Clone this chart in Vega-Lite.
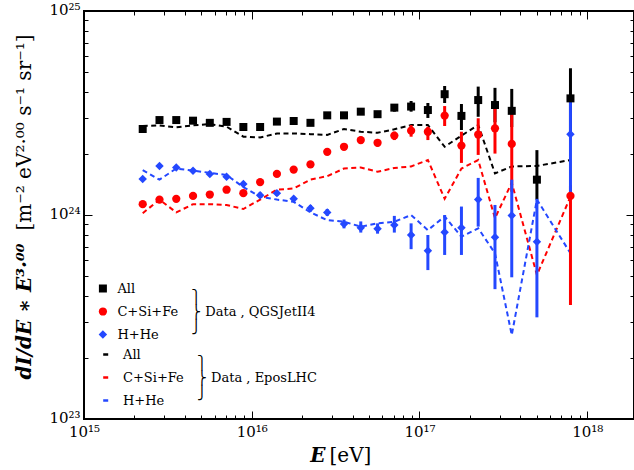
{
"$schema": "https://vega.github.io/schema/vega-lite/v6.json",
"width": 550, "height": 408,
"autosize": {"type": "none"},
"padding": {"left": 84, "top": 11, "right": 0, "bottom": 51},
"background": "white",
"config": {
  "view": {"stroke": "black", "strokeWidth": 2},
  "font": "DejaVu Serif",
  "axis": {"labelFont": "DejaVu Serif", "titleFont": "DejaVu Serif", "labelColor": "black", "titleColor": "black", "tickColor": "black", "grid": false, "domain": false, "labelFlush": false, "labelOverlap": false},
  "legend": {"labelFont": "DejaVu Serif", "titleFont": "DejaVu Serif", "labelColor": "black", "titleColor": "black", "labelFontSize": 13, "titleFontSize": 13, "titleFontWeight": "normal", "titleLineHeight": 15, "padding": 0}
},
"datasets": {
  "qgs": [
    {"E": 2.2387e15, "v": 2.64e24, "lo": 2.58e24, "hi": 2.70e24, "c": "All"},
    {"E": 2.8184e15, "v": 2.92e24, "lo": 2.86e24, "hi": 2.98e24, "c": "All"},
    {"E": 3.5481e15, "v": 2.92e24, "lo": 2.86e24, "hi": 2.98e24, "c": "All"},
    {"E": 4.4668e15, "v": 2.90e24, "lo": 2.84e24, "hi": 2.96e24, "c": "All"},
    {"E": 5.6234e15, "v": 2.83e24, "lo": 2.77e24, "hi": 2.89e24, "c": "All"},
    {"E": 7.0795e15, "v": 2.86e24, "lo": 2.80e24, "hi": 2.92e24, "c": "All"},
    {"E": 8.9125e15, "v": 2.70e24, "lo": 2.64e24, "hi": 2.76e24, "c": "All"},
    {"E": 1.1220e16, "v": 2.70e24, "lo": 2.63e24, "hi": 2.77e24, "c": "All"},
    {"E": 1.4125e16, "v": 2.87e24, "lo": 2.80e24, "hi": 2.94e24, "c": "All"},
    {"E": 1.7783e16, "v": 2.89e24, "lo": 2.82e24, "hi": 2.96e24, "c": "All"},
    {"E": 2.2387e16, "v": 2.83e24, "lo": 2.75e24, "hi": 2.91e24, "c": "All"},
    {"E": 2.8184e16, "v": 3.08e24, "lo": 3.00e24, "hi": 3.16e24, "c": "All"},
    {"E": 3.5481e16, "v": 3.08e24, "lo": 2.99e24, "hi": 3.17e24, "c": "All"},
    {"E": 4.4668e16, "v": 3.21e24, "lo": 3.11e24, "hi": 3.31e24, "c": "All"},
    {"E": 5.6234e16, "v": 3.12e24, "lo": 3.01e24, "hi": 3.23e24, "c": "All"},
    {"E": 7.0795e16, "v": 3.36e24, "lo": 3.21e24, "hi": 3.46e24, "c": "All"},
    {"E": 8.9125e16, "v": 3.40e24, "lo": 3.21e24, "hi": 3.62e24, "c": "All"},
    {"E": 1.1220e17, "v": 3.27e24, "lo": 2.99e24, "hi": 3.54e24, "c": "All"},
    {"E": 1.4125e17, "v": 3.91e24, "lo": 3.54e24, "hi": 4.29e24, "c": "All"},
    {"E": 1.7783e17, "v": 3.06e24, "lo": 2.61e24, "hi": 3.50e24, "c": "All"},
    {"E": 2.2387e17, "v": 3.66e24, "lo": 3.03e24, "hi": 4.26e24, "c": "All"},
    {"E": 2.8184e17, "v": 3.46e24, "lo": 2.85e24, "hi": 4.20e24, "c": "All"},
    {"E": 3.5481e17, "v": 3.24e24, "lo": 2.70e24, "hi": 4.15e24, "c": "All"},
    {"E": 5.0119e17, "v": 1.49e24, "lo": 1.19e24, "hi": 2.08e24, "c": "All"},
    {"E": 7.9433e17, "v": 3.73e24, "lo": 2.50e24, "hi": 5.24e24, "c": "All"},
    {"E": 2.2387e15, "v": 1.13e24, "lo": 1.10e24, "hi": 1.16e24, "c": "C+Si+Fe"},
    {"E": 2.8184e15, "v": 1.19e24, "lo": 1.16e24, "hi": 1.22e24, "c": "C+Si+Fe"},
    {"E": 3.5481e15, "v": 1.20e24, "lo": 1.17e24, "hi": 1.23e24, "c": "C+Si+Fe"},
    {"E": 4.4668e15, "v": 1.24e24, "lo": 1.21e24, "hi": 1.27e24, "c": "C+Si+Fe"},
    {"E": 5.6234e15, "v": 1.26e24, "lo": 1.23e24, "hi": 1.29e24, "c": "C+Si+Fe"},
    {"E": 7.0795e15, "v": 1.33e24, "lo": 1.30e24, "hi": 1.36e24, "c": "C+Si+Fe"},
    {"E": 8.9125e15, "v": 1.28e24, "lo": 1.25e24, "hi": 1.31e24, "c": "C+Si+Fe"},
    {"E": 1.1220e16, "v": 1.45e24, "lo": 1.41e24, "hi": 1.49e24, "c": "C+Si+Fe"},
    {"E": 1.4125e16, "v": 1.59e24, "lo": 1.55e24, "hi": 1.63e24, "c": "C+Si+Fe"},
    {"E": 1.7783e16, "v": 1.67e24, "lo": 1.62e24, "hi": 1.72e24, "c": "C+Si+Fe"},
    {"E": 2.2387e16, "v": 1.77e24, "lo": 1.72e24, "hi": 1.82e24, "c": "C+Si+Fe"},
    {"E": 2.8184e16, "v": 2.04e24, "lo": 1.98e24, "hi": 2.10e24, "c": "C+Si+Fe"},
    {"E": 3.5481e16, "v": 2.16e24, "lo": 2.09e24, "hi": 2.23e24, "c": "C+Si+Fe"},
    {"E": 4.4668e16, "v": 2.33e24, "lo": 2.24e24, "hi": 2.42e24, "c": "C+Si+Fe"},
    {"E": 5.6234e16, "v": 2.26e24, "lo": 2.17e24, "hi": 2.35e24, "c": "C+Si+Fe"},
    {"E": 7.0795e16, "v": 2.45e24, "lo": 2.33e24, "hi": 2.56e24, "c": "C+Si+Fe"},
    {"E": 8.9125e16, "v": 2.59e24, "lo": 2.42e24, "hi": 2.76e24, "c": "C+Si+Fe"},
    {"E": 1.1220e17, "v": 2.56e24, "lo": 2.33e24, "hi": 2.71e24, "c": "C+Si+Fe"},
    {"E": 1.4125e17, "v": 3.07e24, "lo": 2.73e24, "hi": 3.42e24, "c": "C+Si+Fe"},
    {"E": 1.7783e17, "v": 2.19e24, "lo": 1.80e24, "hi": 2.56e24, "c": "C+Si+Fe"},
    {"E": 2.2387e17, "v": 2.48e24, "lo": 1.97e24, "hi": 2.98e24, "c": "C+Si+Fe"},
    {"E": 2.8184e17, "v": 2.66e24, "lo": 2.00e24, "hi": 3.46e24, "c": "C+Si+Fe"},
    {"E": 3.5481e17, "v": 2.23e24, "lo": 1.30e24, "hi": 3.20e24, "c": "C+Si+Fe"},
    {"E": 7.9433e17, "v": 1.24e24, "lo": 0.362e24, "hi": 1.40e24, "c": "C+Si+Fe"},
    {"E": 2.2387e15, "v": 1.50e24, "lo": 1.47e24, "hi": 1.53e24, "c": "H+He"},
    {"E": 2.8184e15, "v": 1.74e24, "lo": 1.70e24, "hi": 1.78e24, "c": "H+He"},
    {"E": 3.5481e15, "v": 1.71e24, "lo": 1.67e24, "hi": 1.75e24, "c": "H+He"},
    {"E": 4.4668e15, "v": 1.65e24, "lo": 1.61e24, "hi": 1.69e24, "c": "H+He"},
    {"E": 5.6234e15, "v": 1.59e24, "lo": 1.55e24, "hi": 1.63e24, "c": "H+He"},
    {"E": 7.0795e15, "v": 1.54e24, "lo": 1.50e24, "hi": 1.58e24, "c": "H+He"},
    {"E": 8.9125e15, "v": 1.42e24, "lo": 1.38e24, "hi": 1.46e24, "c": "H+He"},
    {"E": 1.1220e16, "v": 1.25e24, "lo": 1.21e24, "hi": 1.29e24, "c": "H+He"},
    {"E": 1.4125e16, "v": 1.28e24, "lo": 1.24e24, "hi": 1.32e24, "c": "H+He"},
    {"E": 1.7783e16, "v": 1.20e24, "lo": 1.16e24, "hi": 1.24e24, "c": "H+He"},
    {"E": 2.2387e16, "v": 1.08e24, "lo": 1.04e24, "hi": 1.12e24, "c": "H+He"},
    {"E": 2.8184e16, "v": 1.03e24, "lo": 0.99e24, "hi": 1.07e24, "c": "H+He"},
    {"E": 3.5481e16, "v": 0.903e24, "lo": 0.86e24, "hi": 0.95e24, "c": "H+He"},
    {"E": 4.4668e16, "v": 0.867e24, "lo": 0.82e24, "hi": 0.93e24, "c": "H+He"},
    {"E": 5.6234e16, "v": 0.857e24, "lo": 0.81e24, "hi": 0.91e24, "c": "H+He"},
    {"E": 7.0795e16, "v": 0.894e24, "lo": 0.82e24, "hi": 0.99e24, "c": "H+He"},
    {"E": 8.9125e16, "v": 0.798e24, "lo": 0.68e24, "hi": 0.91e24, "c": "H+He"},
    {"E": 1.1220e17, "v": 0.668e24, "lo": 0.537e24, "hi": 0.798e24, "c": "H+He"},
    {"E": 1.4125e17, "v": 0.822e24, "lo": 0.637e24, "hi": 1.00e24, "c": "H+He"},
    {"E": 1.7783e17, "v": 0.867e24, "lo": 0.637e24, "hi": 1.10e24, "c": "H+He"},
    {"E": 2.2387e17, "v": 1.19e24, "lo": 0.877e24, "hi": 1.52e24, "c": "H+He"},
    {"E": 2.8184e17, "v": 0.778e24, "lo": 0.433e24, "hi": 1.12e24, "c": "H+He"},
    {"E": 3.5481e17, "v": 0.994e24, "lo": 0.495e24, "hi": 1.49e24, "c": "H+He"},
    {"E": 5.0119e17, "v": 0.74e24, "lo": 0.315e24, "hi": 1.20e24, "c": "H+He"},
    {"E": 7.9433e17, "v": 2.49e24, "lo": 1.20e24, "hi": 3.70e24, "c": "H+He"}
  ],
  "epos": [
    {"E": 2.2387e15, "v": 2.73e24, "c": "All"},
    {"E": 2.8184e15, "v": 2.75e24, "c": "All"},
    {"E": 3.5481e15, "v": 2.69e24, "c": "All"},
    {"E": 4.4668e15, "v": 2.75e24, "c": "All"},
    {"E": 5.6234e15, "v": 2.79e24, "c": "All"},
    {"E": 7.0795e15, "v": 2.71e24, "c": "All"},
    {"E": 8.9125e15, "v": 2.42e24, "c": "All"},
    {"E": 1.1220e16, "v": 2.40e24, "c": "All"},
    {"E": 1.4125e16, "v": 2.51e24, "c": "All"},
    {"E": 1.7783e16, "v": 2.51e24, "c": "All"},
    {"E": 2.2387e16, "v": 2.49e24, "c": "All"},
    {"E": 2.8184e16, "v": 2.47e24, "c": "All"},
    {"E": 3.5481e16, "v": 2.64e24, "c": "All"},
    {"E": 4.4668e16, "v": 2.56e24, "c": "All"},
    {"E": 5.6234e16, "v": 2.53e24, "c": "All"},
    {"E": 7.0795e16, "v": 2.63e24, "c": "All"},
    {"E": 8.9125e16, "v": 2.76e24, "c": "All"},
    {"E": 1.1220e17, "v": 2.76e24, "c": "All"},
    {"E": 1.4125e17, "v": 2.16e24, "c": "All"},
    {"E": 1.7783e17, "v": 2.45e24, "c": "All"},
    {"E": 2.2387e17, "v": 2.76e24, "c": "All"},
    {"E": 2.8184e17, "v": 1.60e24, "c": "All"},
    {"E": 3.5481e17, "v": 1.73e24, "c": "All"},
    {"E": 5.0119e17, "v": 1.74e24, "c": "All"},
    {"E": 7.9433e17, "v": 1.86e24, "c": "All"},
    {"E": 2.2387e15, "v": 1.02e24, "c": "C+Si+Fe"},
    {"E": 2.8184e15, "v": 1.19e24, "c": "C+Si+Fe"},
    {"E": 3.5481e15, "v": 1.03e24, "c": "C+Si+Fe"},
    {"E": 4.4668e15, "v": 1.13e24, "c": "C+Si+Fe"},
    {"E": 5.6234e15, "v": 1.13e24, "c": "C+Si+Fe"},
    {"E": 7.0795e15, "v": 1.12e24, "c": "C+Si+Fe"},
    {"E": 8.9125e15, "v": 1.07e24, "c": "C+Si+Fe"},
    {"E": 1.1220e16, "v": 1.19e24, "c": "C+Si+Fe"},
    {"E": 1.4125e16, "v": 1.33e24, "c": "C+Si+Fe"},
    {"E": 1.7783e16, "v": 1.35e24, "c": "C+Si+Fe"},
    {"E": 2.2387e16, "v": 1.49e24, "c": "C+Si+Fe"},
    {"E": 2.8184e16, "v": 1.55e24, "c": "C+Si+Fe"},
    {"E": 3.5481e16, "v": 1.69e24, "c": "C+Si+Fe"},
    {"E": 4.4668e16, "v": 1.71e24, "c": "C+Si+Fe"},
    {"E": 5.6234e16, "v": 1.63e24, "c": "C+Si+Fe"},
    {"E": 7.0795e16, "v": 1.70e24, "c": "C+Si+Fe"},
    {"E": 8.9125e16, "v": 1.73e24, "c": "C+Si+Fe"},
    {"E": 1.1220e17, "v": 1.86e24, "c": "C+Si+Fe"},
    {"E": 1.4125e17, "v": 1.20e24, "c": "C+Si+Fe"},
    {"E": 1.7783e17, "v": 1.69e24, "c": "C+Si+Fe"},
    {"E": 2.2387e17, "v": 1.86e24, "c": "C+Si+Fe"},
    {"E": 2.8184e17, "v": 0.964e24, "c": "C+Si+Fe"},
    {"E": 3.5481e17, "v": 1.44e24, "c": "C+Si+Fe"},
    {"E": 5.0119e17, "v": 0.508e24, "c": "C+Si+Fe"},
    {"E": 7.9433e17, "v": 1.23e24, "c": "C+Si+Fe"},
    {"E": 2.2387e15, "v": 1.66e24, "c": "H+He"},
    {"E": 2.8184e15, "v": 1.49e24, "c": "H+He"},
    {"E": 3.5481e15, "v": 1.69e24, "c": "H+He"},
    {"E": 4.4668e15, "v": 1.65e24, "c": "H+He"},
    {"E": 5.6234e15, "v": 1.61e24, "c": "H+He"},
    {"E": 7.0795e15, "v": 1.57e24, "c": "H+He"},
    {"E": 8.9125e15, "v": 1.37e24, "c": "H+He"},
    {"E": 1.1220e16, "v": 1.23e24, "c": "H+He"},
    {"E": 1.4125e16, "v": 1.19e24, "c": "H+He"},
    {"E": 1.7783e16, "v": 1.16e24, "c": "H+He"},
    {"E": 2.2387e16, "v": 1.03e24, "c": "H+He"},
    {"E": 2.8184e16, "v": 0.944e24, "c": "H+He"},
    {"E": 3.5481e16, "v": 0.927e24, "c": "H+He"},
    {"E": 4.4668e16, "v": 0.877e24, "c": "H+He"},
    {"E": 5.6234e16, "v": 0.91e24, "c": "H+He"},
    {"E": 7.0795e16, "v": 0.927e24, "c": "H+He"},
    {"E": 8.9125e16, "v": 1.00e24, "c": "H+He"},
    {"E": 1.1220e17, "v": 0.843e24, "c": "H+He"},
    {"E": 1.4125e17, "v": 0.983e24, "c": "H+He"},
    {"E": 1.7783e17, "v": 0.783e24, "c": "H+He"},
    {"E": 2.2387e17, "v": 0.861e24, "c": "H+He"},
    {"E": 2.8184e17, "v": 0.649e24, "c": "H+He"},
    {"E": 3.5481e17, "v": 0.258e24, "c": "H+He"},
    {"E": 5.0119e17, "v": 1.19e24, "c": "H+He"},
    {"E": 7.9433e17, "v": 0.649e24, "c": "H+He"}
  ]
},
"layer": [
  {
    "data": {"name": "epos"},
    "mark": {"type": "line", "strokeWidth": 2, "strokeDash": [5, 3.5]},
    "encoding": {
      "x": {"field": "E", "type": "quantitative", "scale": {"type": "log", "domain": [1e15, 1.9e18], "nice": false},
        "axis": {"orient": "bottom", "ticks": false, "labels": false, "domain": false, "title": "[eV]", "titleFontSize": 20, "titleFontWeight": "normal", "titleX": 245, "titleY": 42, "titleAlign": "left", "titleBaseline": "alphabetic"}},
      "y": {"field": "v", "type": "quantitative", "scale": {"type": "log", "domain": [1e23, 1e25], "nice": false},
        "axis": {"orient": "left", "ticks": false, "labels": false, "domain": false, "title": "[m⁻² eV²·⁰⁰ s⁻¹ sr⁻¹]", "titleFontSize": 20, "titleFontWeight": "normal", "titleX": -60, "titleY": 121, "titleAngle": -90, "titleAlign": "center", "titleBaseline": "middle"}},
      "color": {"field": "c", "type": "nominal", "scale": {"domain": ["All", "C+Si+Fe", "H+He"], "range": ["#000000", "#ff0000", "#2448ff"]},
        "legend": {"orient": "none", "legendX": 15.2, "legendY": 337, "symbolType": "stroke", "symbolSize": 25, "symbolStrokeWidth": 2.5, "labelOffset": 10.8, "rowPadding": 9, "title": ["⎫", "⎬ Data , EposLHC", "⎭"], "titleOrient": "right", "titlePadding": 13}}
    }
  },
  {
    "data": {"name": "qgs"},
    "mark": {"type": "rule", "strokeWidth": 3},
    "encoding": {
      "x": {"field": "E", "type": "quantitative", "scale": {"type": "log", "domain": [1e15, 1.9e18], "nice": false},
        "axis": {"orient": "bottom",
          "values": [1e15,2e15,3e15,4e15,5e15,6e15,7e15,8e15,9e15,1e16,2e16,3e16,4e16,5e16,6e16,7e16,8e16,9e16,1e17,2e17,3e17,4e17,5e17,6e17,7e17,8e17,9e17,1e18],
          "labelExpr": "datum.value == 1e15 ? '10¹⁵' : datum.value == 1e16 ? '10¹⁶' : datum.value == 1e17 ? '10¹⁷' : datum.value == 1e18 ? '10¹⁸' : ''",
          "tickSize": {"condition": {"test": "indexof([1e15,1e16,1e17,1e18], datum.value) >= 0", "value": -8}, "value": -4},
          "labelFontSize": 15, "labelPadding": 13,
          "title": "E", "titleFontSize": 20, "titleFontWeight": "bold", "titleFontStyle": "italic", "titleX": 241, "titleY": 42, "titleAlign": "right", "titleBaseline": "alphabetic"}},
      "y": {"field": "lo", "type": "quantitative", "scale": {"type": "log", "domain": [1e23, 1e25], "nice": false},
        "axis": {"orient": "left",
          "values": [1e23,2e23,3e23,4e23,5e23,6e23,7e23,8e23,9e23,1e24,2e24,3e24,4e24,5e24,6e24,7e24,8e24,9e24,1e25],
          "labelExpr": "datum.value == 1e23 ? '10²³' : datum.value == 1e24 ? '10²⁴' : datum.value == 1e25 ? '10²⁵' : ''",
          "tickSize": {"condition": {"test": "indexof([1e23,1e24,1e25], datum.value) >= 0", "value": -8}, "value": -4},
          "labelFontSize": 15, "labelPadding": 12, "labelBaseline": "alphabetic", "labelOffset": 3,
          "title": "dI/dE ∗ E³·⁰⁰", "titleFontSize": 20, "titleFontWeight": "bold", "titleFontStyle": "italic", "titleX": -60, "titleY": 300, "titleAngle": -90, "titleAlign": "center", "titleBaseline": "middle"}},
      "y2": {"field": "hi"},
      "color": {"field": "c", "type": "nominal", "scale": {"domain": ["All", "C+Si+Fe", "H+He"], "range": ["#000000", "#ff0000", "#2448ff"]}, "legend": null}
    }
  },
  {
    "data": {"name": "qgs"},
    "mark": {"type": "point", "filled": true, "opacity": 1, "strokeWidth": 0},
    "encoding": {
      "x": {"field": "E", "type": "quantitative", "scale": {"type": "log", "domain": [1e15, 1.9e18], "nice": false},
        "axis": {"orient": "top", "labels": false, "title": null,
          "values": [1e15,2e15,3e15,4e15,5e15,6e15,7e15,8e15,9e15,1e16,2e16,3e16,4e16,5e16,6e16,7e16,8e16,9e16,1e17,2e17,3e17,4e17,5e17,6e17,7e17,8e17,9e17,1e18],
          "tickSize": {"condition": {"test": "indexof([1e15,1e16,1e17,1e18], datum.value) >= 0", "value": -8}, "value": -4}}},
      "y": {"field": "v", "type": "quantitative", "scale": {"type": "log", "domain": [1e23, 1e25], "nice": false},
        "axis": {"orient": "right", "labels": false, "title": null,
          "values": [1e23,2e23,3e23,4e23,5e23,6e23,7e23,8e23,9e23,1e24,2e24,3e24,4e24,5e24,6e24,7e24,8e24,9e24,1e25],
          "tickSize": {"condition": {"test": "indexof([1e23,1e24,1e25], datum.value) >= 0", "value": -8}, "value": -4}}},
      "color": {"field": "c", "type": "nominal", "scale": {"domain": ["All", "C+Si+Fe", "H+He"], "range": ["#000000", "#ff0000", "#2448ff"]},
        "legend": {"orient": "none", "legendX": 12.4, "legendY": 271, "labelOffset": 8, "rowPadding": 9, "symbolOpacity": 1, "symbolStrokeWidth": 0, "title": ["⎫", "⎬ Data , QGSJetII4", "⎭"], "titleOrient": "right", "titlePadding": 13}},
      "shape": {"field": "c", "type": "nominal", "scale": {"domain": ["All", "C+Si+Fe", "H+He"], "range": ["square", "circle", "diamond"]},
        "legend": {"orient": "none", "legendX": 12.4, "legendY": 271, "labelOffset": 8, "rowPadding": 9, "symbolOpacity": 1, "symbolStrokeWidth": 0, "title": ["⎫", "⎬ Data , QGSJetII4", "⎭"], "titleOrient": "right", "titlePadding": 13}},
      "size": {"field": "c", "type": "nominal", "scale": {"domain": ["All", "C+Si+Fe", "H+He"], "range": [64, 72, 130]},
        "legend": {"orient": "none", "legendX": 12.4, "legendY": 271, "labelOffset": 8, "rowPadding": 9, "symbolOpacity": 1, "symbolStrokeWidth": 0, "title": ["⎫", "⎬ Data , QGSJetII4", "⎭"], "titleOrient": "right", "titlePadding": 13}}
    }
  }
],
"resolve": {"scale": {"color": "independent", "shape": "independent", "size": "independent"}, "axis": {"x": "independent", "y": "independent"}}
}
